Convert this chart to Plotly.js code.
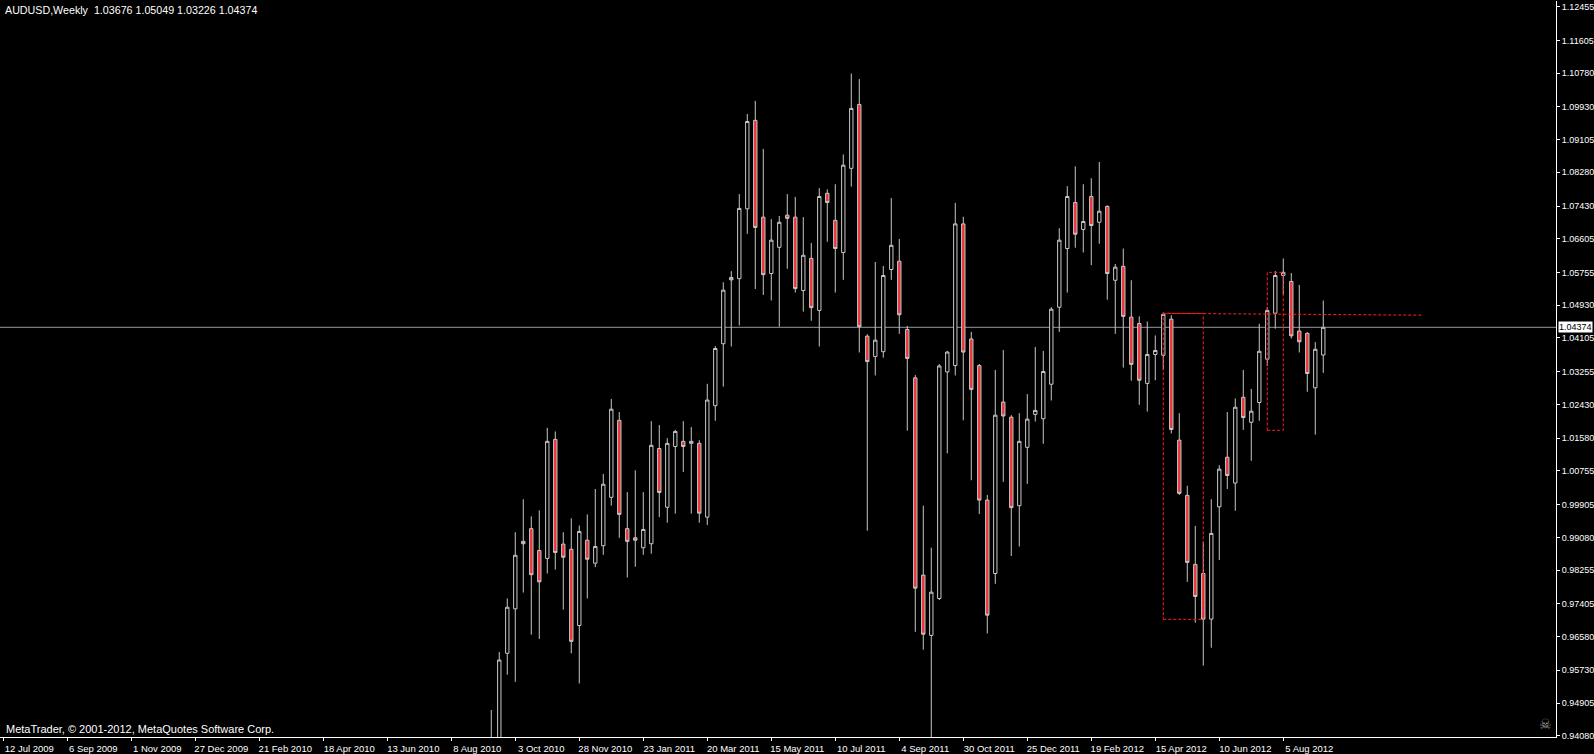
<!DOCTYPE html>
<html>
<head>
<meta charset="utf-8">
<script src="https://cdn.plot.ly/plotly-3.0.1.min.js"></script>
<style>
html,body{margin:0;padding:0;background:#000;overflow:hidden;}
#chart{width:1594px;height:754px;}
</style>
</head>
<body>
<div id="chart"></div>
<script>
// ---- data (weekly AUDUSD bars, first bar week of 12 Sep 2010) ----
const firstWeek = '2010-09-12';
const openP = [0.9280,0.9380,0.9616,0.9728,0.9898,0.9930,0.9875,0.9855,1.0155,0.9891,
0.9878,0.9686,0.9901,0.9843,0.9887,1.0009,1.0203,0.9930,0.9907,0.9882,
0.9892,1.0132,0.9984,1.0137,1.0150,1.0145,1.0145,0.9959,1.0240,1.0396,
1.0563,1.0560,1.0736,1.0959,1.0715,1.0573,1.0639,1.0720,1.0715,1.0530,
1.0611,1.0480,1.0775,1.0707,1.0626,1.0838,1.0999,1.0415,1.0364,1.0376,
1.0583,1.0604,1.0432,1.0310,0.9813,0.9661,0.9754,1.0325,1.0341,1.0698,
1.0408,1.0341,1.0002,0.9817,1.0249,1.0211,0.9988,1.0135,1.0218,1.0207,
1.0294,1.0488,1.0636,1.0752,1.0684,1.0767,1.0702,1.0742,1.0556,1.0591,
1.0463,1.0447,1.0296,1.0369,1.0367,1.0458,1.0153,1.0014,0.9840,0.9817,
0.9702,0.9985,1.0110,1.0045,1.0261,1.0198,1.0248,1.0357,1.0473,1.0568,
1.0553,1.0428,1.0422,1.0285,1.03676];
const highP = [0.9473,0.9619,0.9754,0.9921,1.0004,0.9961,0.9976,1.0184,1.0175,0.9921,
0.9956,0.9938,0.9966,1.0030,1.0068,1.0257,1.0224,1.0022,1.0077,1.0022,
1.0201,1.0191,1.0158,1.0179,1.0201,1.0186,1.0153,1.0295,1.0390,1.0551,
1.0579,1.0773,1.0975,1.1008,1.0887,1.0710,1.0718,1.0773,1.0766,1.0715,
1.0650,1.0788,1.0785,1.0798,1.0873,1.1077,1.1063,1.0420,1.0602,1.0592,
1.0763,1.0660,1.0441,1.0317,0.9988,0.9882,1.0345,1.0378,1.0751,1.0716,
1.0426,1.0345,1.0015,1.0330,1.0380,1.0216,1.0221,1.0269,1.0388,1.0378,
1.0488,1.0687,1.0793,1.0843,1.0798,1.0813,1.0854,1.0745,1.0597,1.0636,
1.0556,1.0465,1.0452,1.0417,1.0475,1.0468,1.0221,1.0038,0.9937,0.9897,
1.0004,1.0090,1.0224,1.0258,1.0330,1.0282,1.0446,1.0488,1.0579,1.0611,
1.0574,1.0544,1.0425,1.0400,1.05049];
const lowP = [0.9260,0.9360,0.9562,0.9544,0.9769,0.9663,0.9652,0.9817,0.9827,0.9726,
0.9616,0.9540,0.9754,0.9833,0.9864,0.9988,0.9907,0.9807,0.9834,0.9864,
0.9867,0.9959,0.9945,0.9968,1.0073,0.9968,0.9945,0.9939,1.0202,1.0288,
1.0389,1.0442,1.0673,1.0534,1.0519,1.0505,1.0439,1.0585,1.0525,1.0477,
1.0454,1.0389,1.0653,1.0525,1.0557,1.0792,1.0374,0.9925,1.0316,1.0361,
1.0557,1.0421,1.0177,0.9670,0.9625,0.9387,0.9750,1.0120,1.0316,1.0203,
1.0052,0.9967,0.9666,0.9791,1.0048,0.9861,0.9885,1.0043,1.0200,1.0144,
1.0253,1.0426,1.0525,1.0638,1.0626,1.0594,1.0648,1.0507,1.0421,1.0336,
1.0303,1.0242,1.0225,1.0304,1.0330,1.0170,1.0015,0.9796,0.9693,0.9585,
0.9630,0.9851,1.0030,0.9975,1.0179,1.0101,1.0202,1.0340,1.0434,1.0520,
1.0409,1.0374,1.0275,1.0167,1.03226];
const closeP = [0.9385,0.9599,0.9732,0.9863,0.9892,0.9814,0.9796,1.0150,0.9870,0.9858,
0.9646,0.9923,0.9853,0.9885,1.0042,1.0231,0.9966,0.9898,0.9901,0.9928,
1.0140,1.0021,1.0145,1.0175,1.0137,1.0150,0.9969,1.0254,1.0384,1.0531,
1.0557,1.0737,1.0956,1.0689,1.0570,1.0657,1.0702,1.0712,1.0535,1.0619,
1.0487,1.0767,1.0752,1.0636,1.0846,1.0989,1.0439,1.0351,1.0405,1.0568,
1.0644,1.0469,1.0359,0.9780,0.9664,0.9770,1.0340,1.0375,1.0698,1.0375,
1.0281,1.0002,0.9712,1.0216,1.0214,0.9983,1.0150,1.0206,1.0228,1.0326,
1.0483,1.0657,1.0767,1.0672,1.0704,1.0694,1.0730,1.0573,1.0589,1.0465,
1.0344,1.0304,1.0369,1.0379,1.0470,1.0180,1.0019,0.9845,0.9759,0.9702,
0.9918,1.0080,1.0064,1.0236,1.0210,1.0226,1.0377,1.0480,1.0568,1.0576,
1.0416,1.0401,1.0321,1.0382,1.04374];

const xTickVals = ['2009-07-12','2009-09-06','2009-11-01','2009-12-27','2010-02-21','2010-04-18',
'2010-06-13','2010-08-08','2010-10-03','2010-11-28','2011-01-23','2011-03-20','2011-05-15',
'2011-07-10','2011-09-04','2011-10-30','2011-12-25','2012-02-19','2012-04-15','2012-06-10','2012-08-05'];
const xTickText = ['12 Jul 2009','6 Sep 2009','1 Nov 2009','27 Dec 2009','21 Feb 2010','18 Apr 2010',
'13 Jun 2010','8 Aug 2010','3 Oct 2010','28 Nov 2010','23 Jan 2011','20 Mar 2011','15 May 2011',
'10 Jul 2011','4 Sep 2011','30 Oct 2011','25 Dec 2011','19 Feb 2012','15 Apr 2012','10 Jun 2012','5 Aug 2012'];
const yTickVals = [1.12455,1.11605,1.10780,1.09930,1.09105,1.08280,1.07430,1.06605,1.05755,1.04930,
1.04105,1.03255,1.02430,1.01580,1.00755,0.99905,0.99080,0.98255,0.97405,0.96580,0.95730,0.94905,0.94080];
const yTickText = ['1.12455','1.11605','1.10780','1.09930','1.09105','1.08280','1.07430','1.06605','1.05755','1.04930',
'1.04105','1.03255','1.02430','1.01580','1.00755','0.99905','0.99080','0.98255','0.97405','0.96580','0.95730','0.94905','0.94080'];

const bidPrice = 1.04374;
const chartTitle = 'AUDUSD,Weekly  1.03676 1.05049 1.03226 1.04374';
const footer = 'MetaTrader, \u00A9 2001-2012, MetaQuotes Software Corp.';
// drawn objects (week index, price)
const rect1 = {w0: 84, w1: 89, p0: 0.97015, p1: 1.04726};
const rect2 = {w0: 97, w1: 99, p0: 1.01778, p1: 1.05759};
const trend = {w0: 84, w1: 116.5, p0: 1.04726, p1: 1.0468};

// ---- helpers ----
const WEEK = 7 * 86400000;
const base = Date.UTC(2010, 8, 12);
function wk(i) {
  const d = new Date(base + i * WEEK);
  return d.toISOString().replace('T', ' ').slice(0, 19);
}
const dates = openP.map((_, i) => wk(i));

const FONT = 'Liberation Sans, Arial, sans-serif';
const GRAY = '#c8c8c8';
const RED = '#e8343a';
const DASHRED = '#ff1e1e';

const trace = {
  type: 'candlestick',
  x: dates,
  open: openP, high: highP, low: lowP, close: closeP,
  increasing: {line: {color: GRAY, width: 1}, fillcolor: '#000000'},
  decreasing: {line: {color: GRAY, width: 1}, fillcolor: RED},
  whiskerwidth: 0,
  hoverinfo: 'skip',
  showlegend: false
};

const layout = {
  width: 1594, height: 754,
  paper_bgcolor: '#000', plot_bgcolor: '#000',
  margin: {l: 0, r: 38, t: 1, b: 17, pad: 0},
  showlegend: false,
  boxgap: 0.4,
  xaxis: {
    type: 'date',
    range: [wk(-61.41), wk(133.09)],
    showgrid: false, zeroline: false,
    showline: true, linecolor: '#ffffff', linewidth: 1,
    ticks: 'outside', ticklen: 3, tickcolor: '#ffffff', tickwidth: 1,
    tickmode: 'array', tickvals: xTickVals, ticktext: xTickText,
    ticklabelshift: 26, ticklabelstandoff: 0,
    tickfont: {family: FONT, size: 9.5, color: '#ffffff'},
    rangeslider: {visible: false},
    fixedrange: true
  },
  yaxis: {
    side: 'right',
    range: [0.94050, 1.12597],
    showgrid: false, zeroline: false,
    showline: true, linecolor: '#ffffff', linewidth: 1,
    ticks: 'outside', ticklen: 3, tickcolor: '#ffffff', tickwidth: 1,
    tickmode: 'array', tickvals: yTickVals, ticktext: yTickText,
    tickfont: {family: FONT, size: 9, color: '#ffffff'},
    fixedrange: true
  },
  shapes: [
    {type: 'line', xref: 'paper', x0: 0, x1: 1, yref: 'y', y0: bidPrice, y1: bidPrice,
     line: {color: '#8e98a4', width: 1}, layer: 'below'},
    {type: 'rect', xref: 'x', yref: 'y', x0: wk(rect1.w0), x1: wk(rect1.w1), y0: rect1.p0, y1: rect1.p1,
     line: {color: DASHRED, width: 1, dash: '3px,2px'}, fillcolor: 'rgba(0,0,0,0)', layer: 'above'},
    {type: 'rect', xref: 'x', yref: 'y', x0: wk(rect2.w0), x1: wk(rect2.w1), y0: rect2.p0, y1: rect2.p1,
     line: {color: DASHRED, width: 1, dash: '3px,2px'}, fillcolor: 'rgba(0,0,0,0)', layer: 'above'},
    {type: 'line', xref: 'x', yref: 'y', x0: wk(trend.w0), x1: wk(trend.w1), y0: trend.p0, y1: trend.p1,
     line: {color: DASHRED, width: 1, dash: '3px,2px'}, layer: 'above'}
  ],
  annotations: [
    {text: chartTitle, xref: 'paper', yref: 'paper', x: 3/1556, y: (737-10)/736,
     xanchor: 'left', yanchor: 'middle', showarrow: false,
     font: {family: FONT, size: 10.7, color: '#ffffff'}},
    {text: footer, xref: 'paper', yref: 'paper', x: 4/1556, y: (737-729)/736,
     xanchor: 'left', yanchor: 'middle', showarrow: false,
     font: {family: FONT, size: 11, color: '#ffffff'}},
    {text: '\u2620', xref: 'paper', yref: 'paper', x: 1545/1556, y: (737-724)/736,
     xanchor: 'center', yanchor: 'middle', showarrow: false,
     font: {family: 'DejaVu Sans', size: 14, color: '#9a9a9a'}},
    {text: '1.04374', xref: 'paper', yref: 'y', x: 1, y: bidPrice, xshift: 2,
     xanchor: 'left', yanchor: 'middle', showarrow: false,
     bgcolor: '#ffffff', borderpad: 0,
     font: {family: FONT, size: 9, color: '#000000'}}
  ]
};

Plotly.newPlot('chart', [trace], layout, {staticPlot: true, displayModeBar: false});
</script>
</body>
</html>
